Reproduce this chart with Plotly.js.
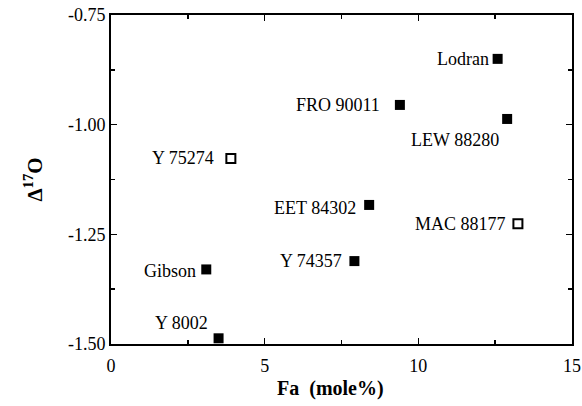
<!DOCTYPE html>
<html>
<head>
<meta charset="utf-8">
<script src="https://cdn.plot.ly/plotly-3.0.1.min.js"></script>
<style>html,body{margin:0;padding:0;background:#fff;}#chart{width:582px;height:406px;}</style>
</head>
<body>
<div id="chart"></div>
<script>
// Data
const names = ["Lodran", "FRO 90011", "LEW 88280", "EET 84302", "MAC 88177", "Y 74357", "Y 75274", "Gibson", "Y 8002"];
const fa = [12.58, 9.40, 12.89, 8.40, 13.24, 7.92, 3.90, 3.10, 3.50];
const d17O = [-0.850, -0.955, -0.987, -1.183, -1.226, -1.311, -1.077, -1.330, -1.487];
const filled = [true, true, true, true, false, true, false, true, true];
const xTickVals = [0, 5, 10, 15];
const xTickText = ["0", "5", "10", "15"];
const yTickVals = [-1.50, -1.25, -1.00, -0.75];
const yTickText = ["-1.50", "-1.25", "-1.00", "-0.75"];
const xTitle = "Fa  (mole%)";
const yTitle = "Δ<sup>17</sup>O";

// Label placement (style only): pixel offsets of label anchor from marker
const labelDx = [-7, -18, -6, -11, -10, -10, -15, -8, -9];
const labelDy = [0, 0, -21, -3, 0, 0, 0, -2, 15];

const fontFam = "Liberation Serif, Times New Roman, serif";

const fx = [], fy = [], ox = [], oy = [];
fa.forEach((v, i) => { if (filled[i]) { fx.push(v); fy.push(d17O[i]); } else { ox.push(v); oy.push(d17O[i]); } });

const traces = [
  {x: fx, y: fy, type: 'scatter', mode: 'markers', cliponaxis: false,
   marker: {symbol: 'square', size: 10, color: '#000', line: {width: 0}}},
  {x: ox, y: oy, type: 'scatter', mode: 'markers', cliponaxis: false,
   marker: {symbol: 'square-open', size: 9, color: '#000', line: {width: 2}}}
];

const annotations = names.map((n, i) => ({
  x: fa[i], y: d17O[i], xref: 'x', yref: 'y', text: n, showarrow: false,
  xanchor: 'right', yanchor: 'middle', xshift: labelDx[i], yshift: labelDy[i],
  font: {family: fontFam, size: 18, color: '#000'}
}));
annotations.push({
  x: 0.477, y: -0.135, xref: 'paper', yref: 'paper', text: '<b>' + xTitle + '</b>', showarrow: false,
  xanchor: 'center', yanchor: 'middle', font: {family: fontFam, size: 20, color: '#000'}
});

const layout = {
  width: 582, height: 406,
  margin: {l: 111, r: 10, t: 15, b: 62, pad: 0},
  paper_bgcolor: '#fff', plot_bgcolor: '#fff',
  showlegend: false,
  font: {family: fontFam, color: '#000', size: 18},
  xaxis: {
    range: [0, 15], tickvals: xTickVals, ticktext: xTickText,
    ticks: 'inside', ticklen: 6, tickwidth: 1.5, tickcolor: '#000',
    minor: {dtick: 2.5, ticks: 'inside', ticklen: 4, tickwidth: 1.5, tickcolor: '#000'},
    showline: true, linewidth: 2, linecolor: '#000', mirror: 'ticks',
    showgrid: false, zeroline: false, ticklabelstandoff: 4,
    tickfont: {family: fontFam, size: 18, color: '#000'}
  },
  yaxis: {
    range: [-1.50, -0.75], tickvals: yTickVals, ticktext: yTickText,
    ticks: 'inside', ticklen: 6, tickwidth: 1.5, tickcolor: '#000',
    minor: {dtick: 0.125, ticks: 'inside', ticklen: 4, tickwidth: 1.5, tickcolor: '#000'},
    showline: true, linewidth: 2, linecolor: '#000', mirror: 'ticks',
    showgrid: false, zeroline: false,
    tickfont: {family: fontFam, size: 18, color: '#000'},
    title: {text: '<b>' + yTitle + '</b>', font: {family: fontFam, size: 21, color: '#000'}, standoff: 20}
  },
  annotations: annotations
};

Plotly.newPlot('chart', traces, layout, {displayModeBar: false, staticPlot: true});
</script>
</body>
</html>
